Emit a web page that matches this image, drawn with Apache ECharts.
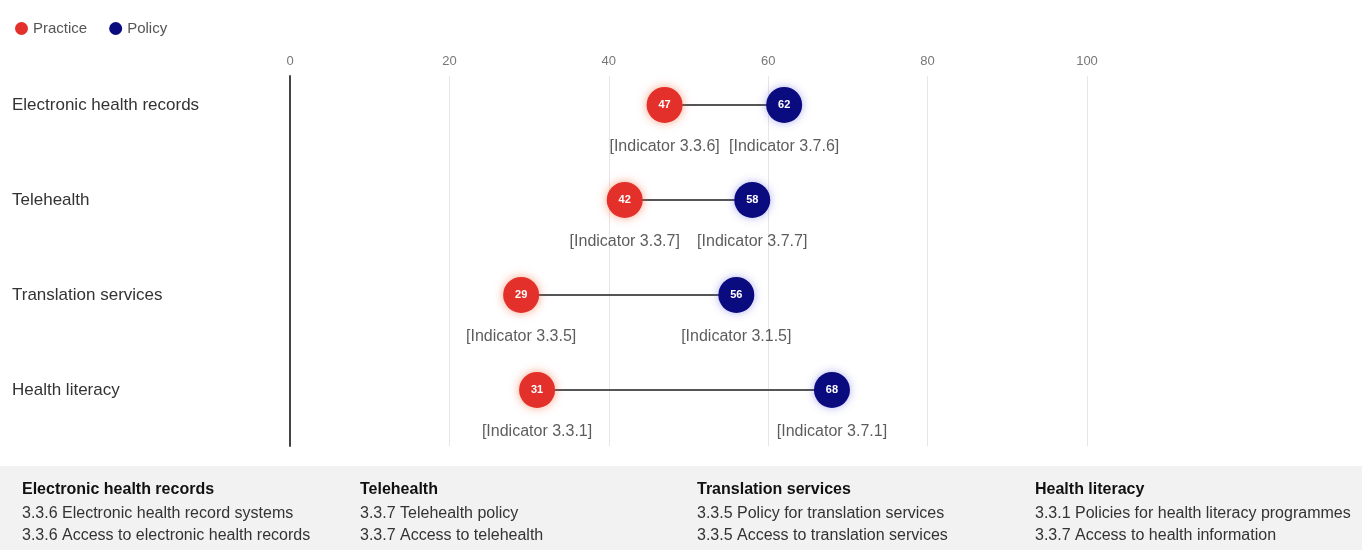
<!DOCTYPE html>
<html>
<head>
<meta charset="utf-8">
<script src="https://cdn.jsdelivr.net/npm/echarts@6/dist/echarts.min.js"></script>
<style>html,body{margin:0;padding:0;background:#fff}#main{width:1362px;height:550px}</style>
</head>
<body>
<div id="main"></div>
<script>
const categories = ['Electronic health records', 'Telehealth', 'Translation services', 'Health literacy'];
const practiceValues = [47, 42, 29, 31];
const policyValues = [62, 58, 56, 68];
const practiceIndicators = ['[Indicator 3.3.6]', '[Indicator 3.3.7]', '[Indicator 3.3.5]', '[Indicator 3.3.1]'];
const policyIndicators = ['[Indicator 3.7.6]', '[Indicator 3.7.7]', '[Indicator 3.1.5]', '[Indicator 3.7.1]'];
const xTicks = [0, 20, 40, 60, 80, 100];
const notesTitles = ['Electronic health records', 'Telehealth', 'Translation services', 'Health literacy'];
const notesLine1 = ['3.3.6 Electronic health record systems', '3.3.7 Telehealth policy', '3.3.5 Policy for translation services', '3.3.1 Policies for health literacy programmes'];
const notesLine2 = ['3.3.6 Access to electronic health records', '3.3.7 Access to telehealth', '3.3.5 Access to translation services', '3.3.7 Access to health information'];

const chart = echarts.init(document.getElementById('main'));
const idx = categories.map((_, i) => i);

const noteX = [22, 360, 697, 1035];
const graphics = [{
  type: 'rect', left: 0, top: 466, shape: {width: 1362, height: 84},
  style: {fill: '#f2f2f2'}, silent: true
}];
notesTitles.forEach((t, i) => {
  graphics.push({type: 'text', left: noteX[i], top: 482, style: {text: t, font: 'bold 16px sans-serif', fill: '#111'}});
  graphics.push({type: 'text', left: noteX[i], top: 506, style: {text: notesLine1[i], font: '16px sans-serif', fill: '#333'}});
  graphics.push({type: 'text', left: noteX[i], top: 528, style: {text: notesLine2[i], font: '16px sans-serif', fill: '#333'}});
});

const option = {
  animation: false,
  legend: {
    left: 10, top: 16, icon: 'circle', itemWidth: 13, itemHeight: 13, itemGap: 22,
    data: ['Practice', 'Policy'],
    textStyle: {color: '#555', fontSize: 15}
  },
  grid: {left: 290, right: 275, top: 76, bottom: 104, containLabel: false},
  xAxis: {
    type: 'value', position: 'top', min: 0, max: 100, interval: 20,
    axisLine: {show: false}, axisTick: {show: false},
    axisLabel: {color: '#777', fontSize: 13, margin: 8, customValues: xTicks},
    splitLine: {show: true, lineStyle: {color: '#e6e6e6', width: 1}}
  },
  yAxis: {
    type: 'value', inverse: true, min: -0.305, max: 3.59,
    axisLine: {show: true, lineStyle: {color: '#444', width: 2}},
    axisTick: {show: false},
    splitLine: {show: false},
    axisLabel: {
      customValues: idx, align: 'left', margin: 278, color: '#333', fontSize: 17,
      formatter: v => categories[Math.round(v)] || ''
    }
  },
  graphic: graphics,
  series: [
    {
      name: 'connector', type: 'custom', silent: true, z: 1,
      data: idx.map(i => [practiceValues[i], policyValues[i], i]),
      encode: {x: [0, 1], y: 2},
      renderItem: (params, api) => {
        const a = api.coord([api.value(0), api.value(2)]);
        const b = api.coord([api.value(1), api.value(2)]);
        return {type: 'line', shape: {x1: a[0], y1: a[1], x2: b[0], y2: b[1]},
          style: {stroke: '#555', lineWidth: 2}};
      }
    },
    {
      name: 'Practice', type: 'scatter', symbolSize: 36, z: 3,
      data: idx.map(i => [practiceValues[i], i]),
      itemStyle: {color: '#e3302a', opacity: 1, shadowBlur: 10, shadowColor: 'rgba(240,90,40,0.55)'},
      label: {show: true, position: 'inside', color: '#fff', fontSize: 11, fontWeight: 'bold',
        formatter: p => p.value[0]}
    },
    {
      name: 'Policy', type: 'scatter', symbolSize: 36, z: 3,
      data: idx.map(i => [policyValues[i], i]),
      itemStyle: {color: '#0b0b80', opacity: 1, shadowBlur: 8, shadowColor: 'rgba(80,80,220,0.45)'},
      label: {show: true, position: 'inside', color: '#fff', fontSize: 11, fontWeight: 'bold',
        formatter: p => p.value[0]}
    },
    {
      name: 'practiceInd', type: 'scatter', symbolSize: 1, z: 4, silent: true,
      itemStyle: {color: 'rgba(0,0,0,0)'},
      data: idx.map(i => [practiceValues[i], i]),
      label: {show: true, position: 'bottom', distance: 33, color: '#333', fontSize: 16,
        formatter: p => practiceIndicators[p.dataIndex]}
    },
    {
      name: 'policyInd', type: 'scatter', symbolSize: 1, z: 4, silent: true,
      itemStyle: {color: 'rgba(0,0,0,0)'},
      data: idx.map(i => [policyValues[i], i]),
      label: {show: true, position: 'bottom', distance: 33, color: '#333', fontSize: 16,
        formatter: p => policyIndicators[p.dataIndex]}
    }
  ]
};
chart.setOption(option);
</script>
</body>
</html>
